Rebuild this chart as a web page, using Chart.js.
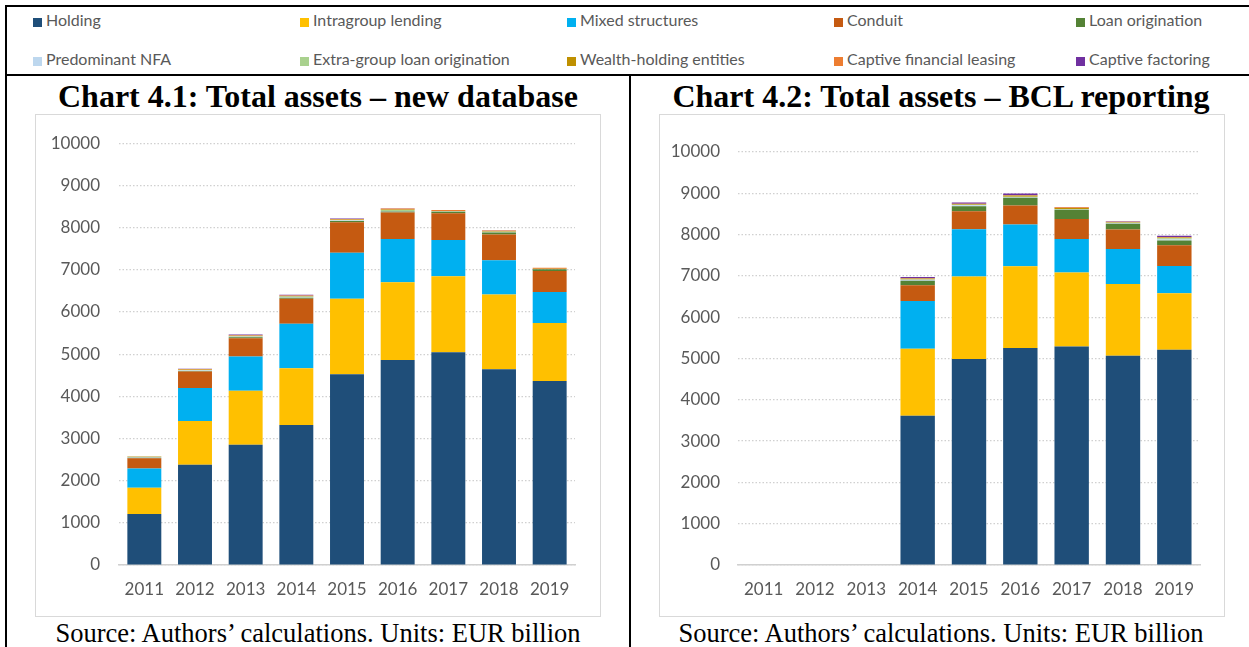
<!DOCTYPE html>
<html><head><meta charset="utf-8">
<script src="https://cdn.jsdelivr.net/npm/chart.js@4.4.1/dist/chart.umd.min.js"></script>
<style>
body{margin:0;background:#fff}
#pg{position:relative;width:1249px;height:647px;overflow:hidden;font-family:'Liberation Serif','Times New Roman',serif}
.ln{position:absolute;background:#000}
.leg{position:absolute;font:16px Lato,sans-serif;color:#595959;white-space:nowrap;line-height:20px}
.leg i{display:inline-block;width:9px;height:9px;margin-right:4px;vertical-align:-1px}
.ttl{position:absolute;top:78px;font-weight:bold;font-size:32px;line-height:36px;text-align:center;color:#000}
.src{position:absolute;top:618px;font-size:26.5px;line-height:30px;text-align:center;color:#000}
.box{position:absolute;top:114px;width:566px;height:503px;border:1px solid #D9D9D9;box-sizing:border-box}
.cw{position:absolute;top:114px;width:566px;height:503px}
</style></head>
<body><div id="pg">
  <div class="ln" style="left:5px;top:5px;width:1244px;height:2px"></div>
  <div class="ln" style="left:5px;top:5px;width:2px;height:642px"></div>
  <div class="ln" style="left:5px;top:74px;width:1244px;height:2px"></div>
  <div class="ln" style="left:629px;top:74px;width:2px;height:573px"></div>
  <div id="legend"></div>
  <div class="ttl" style="left:7px;width:622px">Chart 4.1: Total assets – new database</div>
  <div class="ttl" style="left:631px;width:620px">Chart 4.2: Total assets – BCL reporting</div>
  <div class="box" style="left:35px"></div>
  <div class="box" style="left:659px"></div>
  <div class="cw" style="left:35px"><canvas id="c41"></canvas></div>
  <div class="cw" style="left:659px"><canvas id="c42"></canvas></div>
  <div class="src" style="left:7px;width:622px">Source: Authors’ calculations. Units: EUR billion</div>
  <div class="src" style="left:631px;width:620px">Source: Authors’ calculations. Units: EUR billion</div>
</div>
<script>
const years = ['2011','2012','2013','2014','2015','2016','2017','2018','2019'];
const yTicks = [0,1000,2000,3000,4000,5000,6000,7000,8000,9000,10000];

// Chart 4.1 – new database (EUR bn)
const holdingNew  = [1210, 2375, 2850, 3320, 4525, 4860, 5045, 4640, 4365];
const intraNew    = [ 620, 1040, 1280, 1345, 1785, 1845, 1800, 1775, 1370];
const mixedNew    = [ 460,  780,  815, 1055, 1090, 1025,  860,  810,  735];
const conduitNew  = [ 240,  390,  430,  595,  725,  625,  635,  610,  500];
const loanNew     = [  15,   15,   25,   20,   30,   25,   35,   50,   40];
const nfaNew      = [  10,   10,   10,   10,   15,   15,    5,    5,    5];
const extraNew    = [  10,   15,   15,   20,   10,   20,    5,   10,    5];
const wealthNew   = [   5,   10,   10,   15,   10,   15,    5,   10,    5];
const leasingNew  = [  10,   10,   10,   10,   15,   20,   25,   20,   20];
const factorNew   = [   0,    5,   20,   15,   10,   10,    0,    5,    5];

// Chart 4.2 – BCL reporting (EUR bn), no data before 2014
const holdingBcl  = [null, null, null, 3615, 4985, 5255, 5290, 5065, 5210];
const intraBcl    = [null, null, null, 1620, 2000, 1980, 1795, 1740, 1370];
const mixedBcl    = [null, null, null, 1160, 1145, 1010,  810,  845,  660];
const conduitBcl  = [null, null, null,  380,  435,  460,  480,  475,  505];
const loanBcl     = [null, null, null,  110,  120,  185,  225,  135,  110];
const nfaBcl      = [null, null, null,   20,   25,   15,   10,   15,   25];
const extraBcl    = [null, null, null,   10,   10,   10,   10,   10,   30];
const wealthBcl   = [null, null, null,   20,   20,   30,   25,   15,   20];
const leasingBcl  = [null, null, null,   10,    5,   10,   15,   10,   10];
const factorBcl   = [null, null, null,   30,   30,   40,   10,   15,   30];

const SERIES = [
  {name:'Holding',                      color:'#1F4E79', a:holdingNew, b:holdingBcl},
  {name:'Intragroup lending',           color:'#FFC000', a:intraNew,   b:intraBcl},
  {name:'Mixed structures',             color:'#00B0F0', a:mixedNew,   b:mixedBcl},
  {name:'Conduit',                      color:'#C55A11', a:conduitNew, b:conduitBcl},
  {name:'Loan origination',             color:'#548235', a:loanNew,    b:loanBcl},
  {name:'Predominant NFA',              color:'#BDD7EE', a:nfaNew,     b:nfaBcl},
  {name:'Extra-group loan origination', color:'#A9D18E', a:extraNew,   b:extraBcl},
  {name:'Wealth-holding entities',      color:'#BF9000', a:wealthNew,  b:wealthBcl},
  {name:'Captive financial leasing',    color:'#ED7D31', a:leasingNew, b:leasingBcl},
  {name:'Captive factoring',            color:'#7030A0', a:factorNew,  b:factorBcl},
];

// legend: 5 columns x 2 rows
const legX = [33, 300, 567, 834, 1076], legY = [10, 49];
document.getElementById('legend').innerHTML = SERIES.map((s,i) =>
  `<div class="leg" style="left:${legX[i%5]}px;top:${legY[Math.floor(i/5)]}px"><i style="background:${s.color}"></i>${s.name}</div>`).join('');

const tc = '#595959', gc = '#D0D0D0', tf = {family:'Lato', size:17};

function mk(id, key, area) {
  new Chart(document.getElementById(id), {
    type:'bar',
    data:{ labels: years, datasets: SERIES.map(s => ({
      label:s.name, data:s[key], backgroundColor:s.color, borderWidth:0,
      categoryPercentage:1, barPercentage:0.67 })) },
    options:{ responsive:true, maintainAspectRatio:false, animation:false,
      layout:{padding:{left:0, right:area.r, top:area.t, bottom:0}},
      plugins:{ legend:{display:false}, tooltip:{enabled:false} },
      scales:{
        x:{ stacked:true, grid:{display:false, drawTicks:false}, border:{color:gc, width:1.5},
            ticks:{color:tc, font:tf, padding:area.xp}, afterFit:s => { s.height = area.b; } },
        y:{ stacked:true, min:0, max:10000, afterBuildTicks:s => { s.ticks = yTicks.map(v => ({value:v})); },
            grid:{color:gc, lineWidth:1.2, drawTicks:false}, border:{display:false, dash:[1.5,2]},
            ticks:{color:tc, font:tf, padding:area.yp, callback:v => String(v)},
            afterFit:s => { s.width = area.l; } }
      } }
  });
}
mk('c41', 'a', {l:84, r:26, t:25, b:52, xp:14, yp:19});
mk('c42', 'b', {l:79, r:25, t:38, b:52, xp:14, yp:18});
</script>
</body></html>
